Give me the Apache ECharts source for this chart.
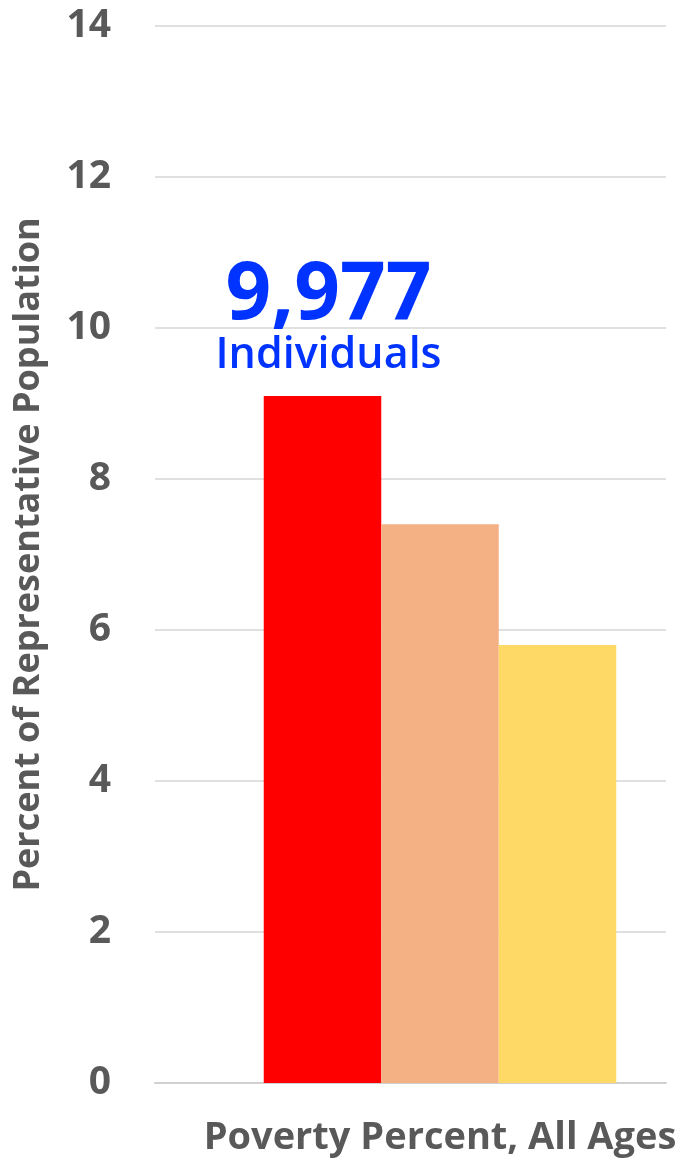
<!DOCTYPE html>
<html>
<head>
<meta charset="utf-8">
<script src="https://cdn.jsdelivr.net/npm/echarts@6/dist/echarts.min.js"></script>
<style>
html,body{margin:0;padding:0;background:#fff;}
#chart{width:684px;height:1161px;}
</style>
</head>
<body>
<div id="chart"></div>
<script>
const categories = ['Poverty Percent, All Ages'];
const seriesNames = ['Group A', 'Group B', 'Group C'];
const seriesValues = [[9.1], [7.4], [5.8]];
const seriesColors = ['#ff0000', '#f4b183', '#ffd966'];
const yTicks = { min: 0, max: 14, interval: 2 };
const yAxisTitle = 'Percent of Representative Population';
const annotationCount = '9,977';
const annotationUnit = 'Individuals';

const chart = echarts.init(document.getElementById('chart'));
const grey = '#595959';
const font = '"Open Sans", "Noto Sans", sans-serif';

const series = seriesNames.map((name, i) => {
  const s = {
    name: name,
    type: 'bar',
    xAxisIndex: 1,
    yAxisIndex: 1,
    data: seriesValues[i],
    barWidth: 117.5,
    barGap: '0%',
    itemStyle: { color: seriesColors[i] },
    silent: true
  };
  if (i === 0) {
    s.label = {
      show: true,
      position: 'top',
      distance: 17,
      offset: [6, 0],
      formatter: () => '{a|' + annotationCount + '}\n{b|' + annotationUnit + '}',
      rich: {
        a: { fontFamily: font, fontWeight: 'bold', fontSize: 80, color: '#0033ff', lineHeight: 74, align: 'center' },
        b: { fontFamily: font, fontWeight: 600, fontSize: 43, color: '#0033ff', lineHeight: 46, align: 'center' }
      }
    };
  }
  return s;
});

chart.setOption({
  animation: false,
  backgroundColor: '#ffffff',
  grid: [
    { left: 155, right: 18, top: 26, bottom: 78 },
    { left: 215, right: 19, top: 26, bottom: 78 }
  ],
  xAxis: [
    {
      type: 'category', gridIndex: 0, data: categories,
      axisLine: { show: true, lineStyle: { color: '#d0d0d0', width: 2 } },
      axisTick: { show: false }, axisLabel: { show: false }
    },
    {
      type: 'category', gridIndex: 1, data: categories,
      axisLine: { show: false }, axisTick: { show: false },
      axisLabel: { show: true, color: grey, fontFamily: font, fontWeight: 'bold', fontSize: 38, margin: 36 }
    }
  ],
  yAxis: [
    {
      type: 'value', gridIndex: 0, min: yTicks.min, max: yTicks.max, interval: yTicks.interval,
      name: yAxisTitle, nameLocation: 'middle', nameGap: 108, nameRotate: 90,
      nameTextStyle: { color: grey, fontFamily: font, fontWeight: 'bold', fontSize: 36 },
      axisLine: { show: false }, axisTick: { show: false },
      axisLabel: { color: grey, fontFamily: font, fontWeight: 'bold', fontSize: 39, margin: 44 },
      splitLine: { show: true, lineStyle: { color: '#e0e0e0', width: 2 } }
    },
    {
      type: 'value', gridIndex: 1, min: yTicks.min, max: yTicks.max, interval: yTicks.interval,
      show: false, splitLine: { show: false }
    }
  ],
  series: series
});
</script>
</body>
</html>
